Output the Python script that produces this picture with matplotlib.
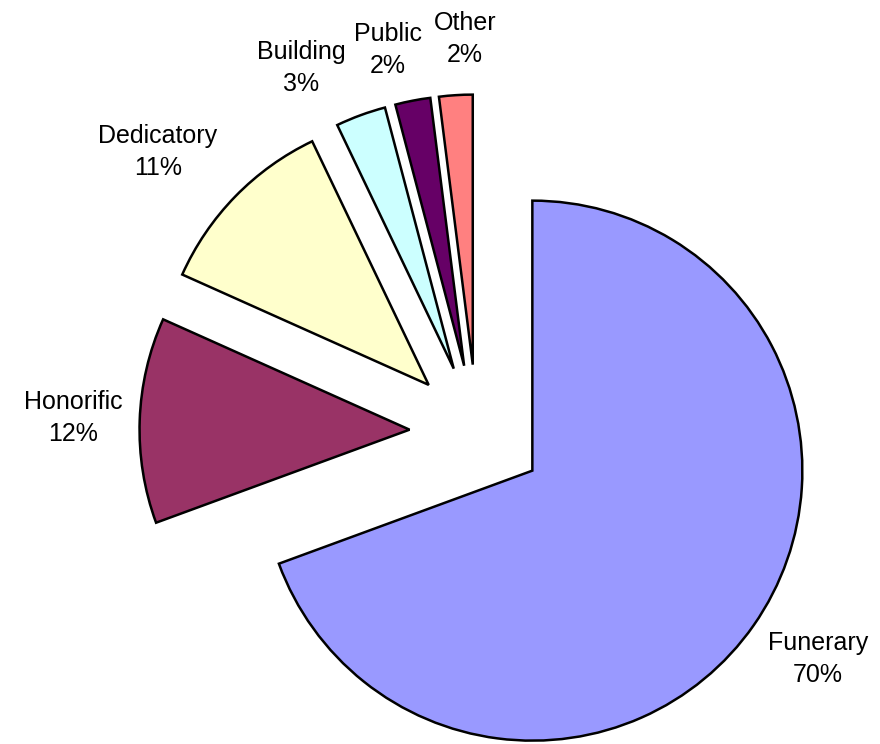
import numpy as np
import matplotlib
matplotlib.use("Agg")
import matplotlib.pyplot as plt

plt.rcParams['font.family'] = ['Liberation Sans', 'DejaVu Sans']

# inscription types, clockwise from 12 o'clock
categories = ['Funerary', 'Honorific', 'Dedicatory', 'Building', 'Public', 'Other']
shares = [69.4, 12.3, 11.2, 3.0, 2.1, 2.0]
pct_labels = ['70%', '12%', '11%', '3%', '2%', '2%']
colors = ['#9999FF', '#993366', '#FFFFCC', '#CCFFFF', '#660066', '#FF8080']

# label placement (distance in radii from the exploded centre, angle nudge in degrees)
label_dist = [1.267, 1.247, 1.323, 1.249, 1.203, 1.206]
label_shift = [1.5, 0.0, 3.6, 6.7, 2.6, -2.2]

fig = plt.figure(figsize=(8.8, 7.44), dpi=100)
ax = fig.add_axes([0, 0, 1, 1])

wedges, _ = ax.pie(shares, colors=colors, startangle=90, counterclock=False,
                   explode=[0.25] * len(shares), radius=1,
                   wedgeprops=dict(edgecolor='black', linewidth=1.8))

for w, name, pct, dist, shift in zip(wedges, categories, pct_labels, label_dist, label_shift):
    mid = np.deg2rad((w.theta1 + w.theta2) / 2 + shift)
    cx, cy = w.center
    ax.text(cx + dist * np.cos(mid), cy + dist * np.sin(mid), f"{name}\n{pct}",
            ha='center', va='center', fontsize=18, linespacing=1.42)

ax.set_xlim(-477 / 270, (880 - 477) / 270)
ax.set_ylim(-(744 - 432) / 270, 432 / 270)
ax.set_aspect('equal')
ax.axis('off')

fig.savefig('out.png', dpi=100)
